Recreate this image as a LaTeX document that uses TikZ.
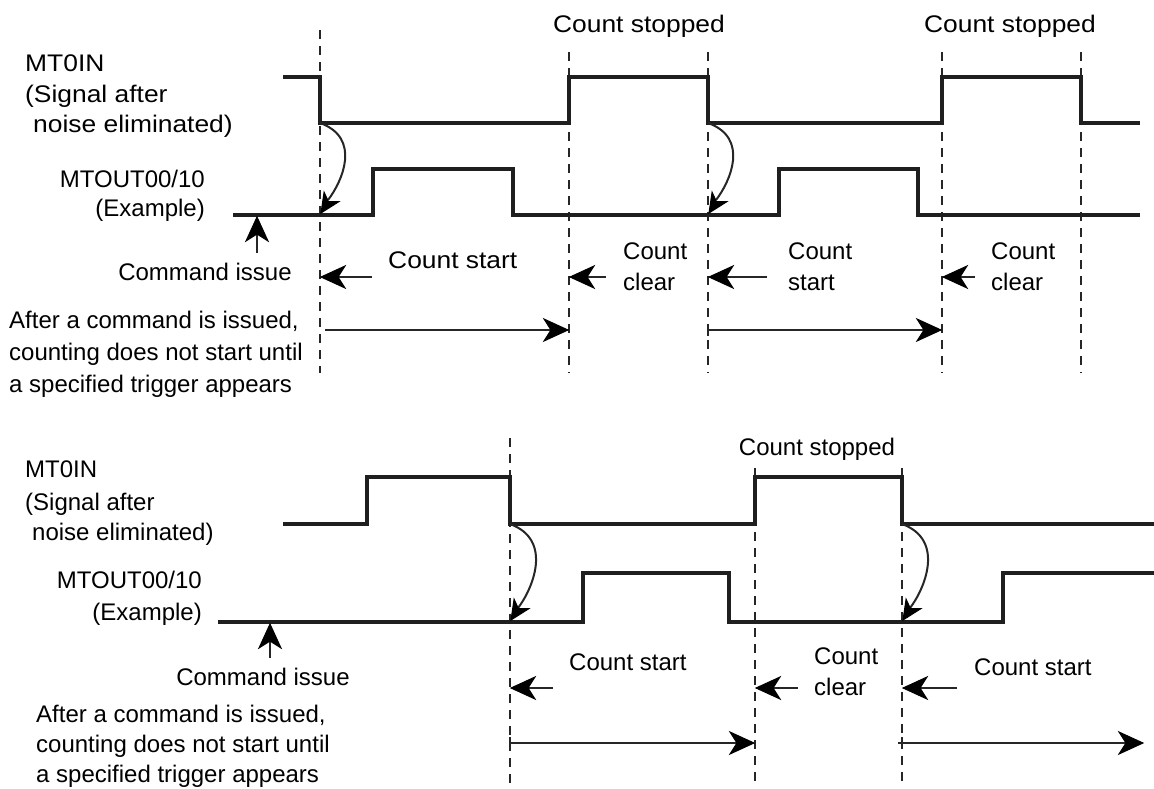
\documentclass[tikz,border=0pt]{standalone}
\usepackage{fontspec}
\setmainfont{Liberation Sans}
\newfontfamily\wf{Liberation Sans}[FakeStretch=1.1]
\tikzset{
  sig/.style={line width=3.2pt, line join=miter, draw=black!88},
  guide/.style={line width=2pt, dash pattern=on 9pt off 7pt, draw=black!85},
  lbl/.style={font=\fontsize{24}{28}\selectfont, inner sep=0pt},
  big/.style={font=\wf\fontsize{24}{28}\selectfont, inner sep=0pt},
  shaft/.style={line width=2.2pt, draw=black!85},
  curshaft/.style={line width=2pt, draw=black!85},
  ahead/.pic={\filldraw[black, line width=1pt, line join=miter] (0,0) -- (-24,11) -- (-17,0) -- (-24,-11) -- cycle;}
}
\begin{document}
\begin{tikzpicture}[x=1pt,y=-1pt]
\useasboundingbox (0,0) rectangle (1154,789);

% ================= TOP DIAGRAM =================
\draw[guide] (320,30) -- (320,373);
\foreach \gx in {569,708,942,1081} \draw[guide] (\gx,52) -- (\gx,373);

\draw[sig] (283,77) -- (320,77) -- (320,123) -- (569,123) -- (569,77) -- (708,77) -- (708,123)
  -- (942,123) -- (942,77) -- (1081,77) -- (1081,123) -- (1140,123);
\draw[sig] (233,215) -- (373,215) -- (373,169) -- (513,169) -- (513,215) -- (779,215) -- (779,169)
  -- (918,169) -- (918,215) -- (1140,215);

\draw[curshaft] (320,123) .. controls (362,138) and (342,182) .. (328,200);
\pic[rotate=237, scale=0.8] at (321,213) {ahead};
\draw[curshaft] (708,123) .. controls (750,138) and (730,182) .. (716,200);
\pic[rotate=237, scale=0.8] at (709,213) {ahead};

\node[big, anchor=base west] (t1) at (25,72) {MT0IN};
\node[big, anchor=base west] (t2) at (25,103) {(Signal after};
\node[big, anchor=base west] (t3) at (33,133) {noise eliminated)};
\node[lbl, anchor=base east] (t4) at (205,187) {MTOUT00/10};
\node[lbl, anchor=base east] (t5) at (205,216) {(Example)};

\node[lbl, anchor=base] (tci) at (205,280) {Command issue};
\draw[shaft] (257,253) -- (257,232);
\pic[rotate=90] at (257,217) {ahead};

\node[big, anchor=base] (tcs1) at (639,33) {Count stopped};
\node[big, anchor=base] (tcs2) at (1010,33) {Count stopped};

\node[big, anchor=base west] (tst1) at (388,268) {Count start};
\draw[shaft] (372,277) -- (336,277);
\pic[rotate=180] at (321,277) {ahead};
\node[lbl, anchor=base west] (tcl1a) at (623,259) {Count};
\node[lbl, anchor=base west] (tcl1b) at (623,290) {clear};
\draw[shaft] (606,277) -- (585,277);
\pic[rotate=180] at (570,277) {ahead};
\node[lbl, anchor=base west] (tst2a) at (788,259) {Count};
\node[lbl, anchor=base west] (tst2b) at (788,290) {start};
\draw[shaft] (767,277) -- (724,277);
\pic[rotate=180] at (709,277) {ahead};
\node[lbl, anchor=base west] (tcl2a) at (991,259) {Count};
\node[lbl, anchor=base west] (tcl2b) at (991,290) {clear};
\draw[shaft] (975,277) -- (958,277);
\pic[rotate=180] at (943,277) {ahead};

\draw[shaft] (325,330) -- (553,330);
\pic at (568,330) {ahead};
\draw[shaft] (708,324) -- (708,336);
\draw[shaft] (708,330) -- (926,330);
\pic at (941,330) {ahead};

\node[lbl, anchor=base west] (ta1) at (9,328) {After a command is issued,};
\node[lbl, anchor=base west] (ta2) at (9,360) {counting does not start until};
\node[lbl, anchor=base west] (ta3) at (9,392) {a specified trigger appears};

% ================= BOTTOM DIAGRAM =================
\draw[guide] (510,438) -- (510,786);
\foreach \gx in {755,902} \draw[guide] (\gx,468) -- (\gx,786);

\draw[sig] (283,524) -- (367,524) -- (367,477) -- (510,477) -- (510,524) -- (755,524) -- (755,477)
  -- (902,477) -- (902,524) -- (1154,524);
\draw[sig] (218,622) -- (583,622) -- (583,573) -- (729,573) -- (729,622) -- (1003,622) -- (1003,573)
  -- (1154,573);

\draw[curshaft] (510,524) .. controls (554,540) and (532,590) .. (518,608);
\pic[rotate=237, scale=0.8] at (511,620) {ahead};
\draw[curshaft] (902,524) .. controls (946,540) and (924,590) .. (910,608);
\pic[rotate=237, scale=0.8] at (903,620) {ahead};

\node[lbl, anchor=base west] (b1) at (25,477) {MT0IN};
\node[lbl, anchor=base west] (b2) at (25,510) {(Signal after};
\node[lbl, anchor=base west] (b3) at (32,540) {noise eliminated)};
\node[lbl, anchor=base east] (b4) at (202,588) {MTOUT00/10};
\node[lbl, anchor=base east] (b5) at (202,620) {(Example)};

\node[lbl, anchor=base] (bci) at (263,685) {Command issue};
\draw[shaft] (270,658) -- (270,639);
\pic[rotate=90] at (270,624) {ahead};

\node[lbl, anchor=base] (bcs) at (817,455) {Count stopped};

\node[lbl, anchor=base west] (bst1) at (569,670) {Count start};
\draw[shaft] (553,688) -- (526,688);
\pic[rotate=180] at (511,688) {ahead};
\node[lbl, anchor=base west] (bcla) at (814,664) {Count};
\node[lbl, anchor=base west] (bclb) at (814,695) {clear};
\draw[shaft] (798,688) -- (771,688);
\pic[rotate=180] at (756,688) {ahead};
\node[lbl, anchor=base west] (bst2) at (974,675) {Count start};
\draw[shaft] (957,688) -- (918,688);
\pic[rotate=180] at (903,688) {ahead};

\draw[shaft] (510,737) -- (510,749);
\draw[shaft] (510,743) -- (739,743);
\pic at (754,743) {ahead};
\draw[shaft] (902,737) -- (902,749);
\draw[shaft] (898,743) -- (1128,743);
\pic at (1143,743) {ahead};

\node[lbl, anchor=base west] (ba1) at (36,722) {After a command is issued,};
\node[lbl, anchor=base west] (ba2) at (36,752) {counting does not start until};
\node[lbl, anchor=base west] (ba3) at (36,782) {a specified trigger appears};
\end{tikzpicture}
\end{document}
